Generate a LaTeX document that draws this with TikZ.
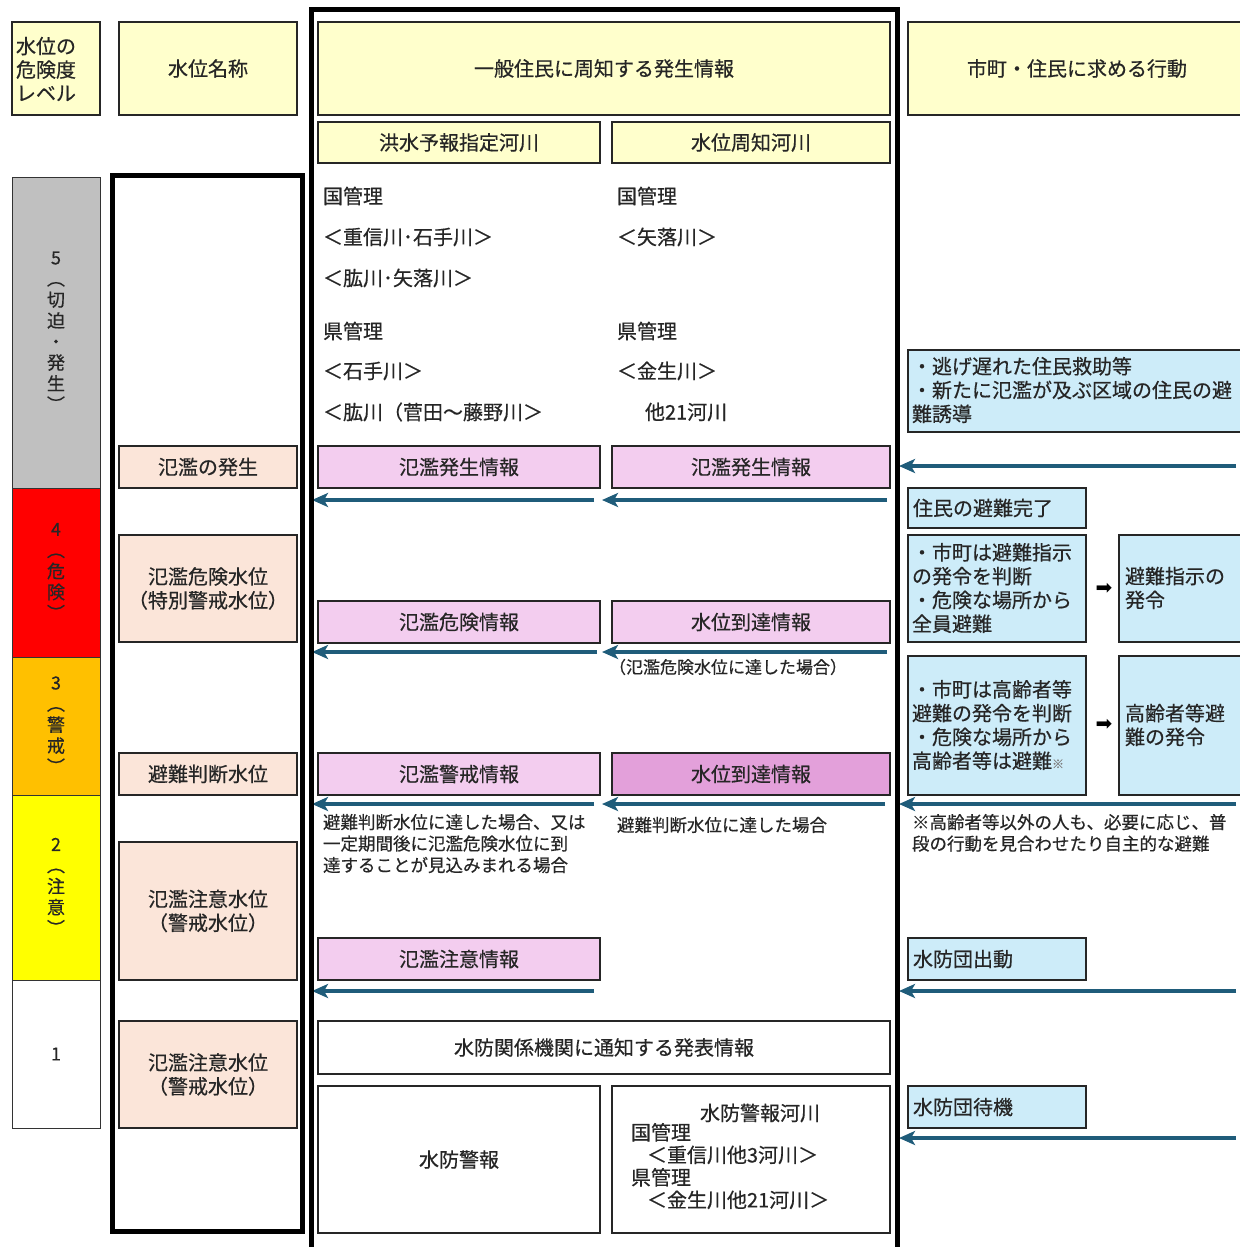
\documentclass[tikz,border=0pt]{standalone}
\usepackage{fontspec}
\usepackage{graphicx}
\setmainfont{Noto Sans CJK JP}[FakeBold=0.5]
\newfontfamily\symfont{DejaVu Sans}
\usetikzlibrary{arrows.meta}
\definecolor{hdr}{HTML}{FFFFCC}
\definecolor{lgray}{HTML}{C0C0C0}
\definecolor{lred}{HTML}{FF0000}
\definecolor{lorange}{HTML}{FFC000}
\definecolor{lyellow}{HTML}{FFFF00}
\definecolor{peach}{HTML}{FBE5D9}
\definecolor{pinkA}{HTML}{F3CDEF}
\definecolor{pinkB}{HTML}{E3A0DA}
\definecolor{lblue}{HTML}{CDECF9}
\definecolor{arrc}{HTML}{1F5C7A}
\definecolor{txt}{HTML}{262626}
\newcommand\fsA{\fontsize{20pt}{23.8pt}\selectfont}
\newcommand\fsB{\fontsize{17.5pt}{21.5pt}\selectfont}
\newcommand\fsC{\fontsize{18pt}{21pt}\selectfont}
\newcommand\vop{\rotatebox[origin=c]{-90}{（}}
\newcommand\vcp{\rotatebox[origin=c]{-90}{）}}
\newcommand\mybox[7]{\node[#6, minimum width={(#4-#2)*1pt}, minimum height={(#5-#3)*1pt}] (#1) at ({(#2+#4)/2},{(#3+#5)/2}) {#7};}
\newcommand\myarrow[4]{\coordinate (#1s) at (#2,#4); \coordinate (#1e) at (#3,#4); \draw[arr] (#1s) -- (#1e);}
\tikzset{
  bx/.style={draw=black!85, line width=1.3pt, inner sep=0pt, outer sep=0pt, text=txt, font=\fsA, align=center},
  lv/.style={draw=black!80, line width=1pt, inner sep=0pt, outer sep=0pt, text=txt, font=\fsC, align=center},
  lbl/.style={inner sep=0pt, outer sep=0pt, text=txt, font=\fsA, align=left},
  sml/.style={inner sep=0pt, outer sep=0pt, text=txt, font=\fsB, align=left},
  arr/.style={draw=arrc, line width=3.4pt, -{Stealth[length=16pt,width=14pt,inset=4pt]}},
  frame/.style={draw=black, line width=5pt}
}
\begin{document}
\begin{tikzpicture}[x=1pt,y=-1pt]
\useasboundingbox (0,0) rectangle (1239,1247);
\fill[white] (0,0) rectangle (1239,1247);
% headers
\mybox{h1}{12}{22}{100}{115}{bx,fill=hdr}{}
\node[lbl, anchor=west, font={\fontsize{20pt}{23.5pt}\selectfont}] (h1t) at (16,69) {水位の\\危険度\\レベル};
\mybox{h2}{119}{22}{297}{115}{bx,fill=hdr}{水位名称}
\mybox{h3}{318}{22}{890}{115}{bx,fill=hdr}{一般住民に周知する発生情報}
\mybox{h4}{908}{22}{1246}{115}{bx,fill=hdr}{市町・住民に求める行動}
\mybox{s1}{318}{122}{600}{163}{bx,fill=hdr}{洪水予報指定河川}
\mybox{s2}{612}{122}{890}{163}{bx,fill=hdr}{水位周知河川}
% levels
\mybox{L5}{12}{177}{100}{488}{lv,fill=lgray}{5\\\vop\\切\\迫\\・\\発\\生\\\vcp}
\mybox{L4}{12}{488}{100}{657}{lv,fill=lred}{4\\\vop\\危\\険\\\vcp}
\mybox{L3}{12}{657}{100}{795}{lv,fill=lorange}{3\\\vop\\警\\戒\\\vcp}
\mybox{L2}{12}{795}{100}{980}{lv,fill=lyellow}{2\\\vop\\注\\意\\\vcp}
\mybox{L1}{12}{980}{100}{1128}{lv,fill=white}{1}
% water level names
\mybox{n1}{119}{446}{297}{488}{bx,fill=peach}{氾濫の発生}
\mybox{n2}{119}{535}{297}{642}{bx,fill=peach}{氾濫危険水位\\（特別警戒水位）}
\mybox{n3}{119}{753}{297}{795}{bx,fill=peach}{避難判断水位}
\mybox{n4}{119}{842}{297}{980}{bx,fill=peach}{氾濫注意水位\\（警戒水位）}
\mybox{n5}{119}{1021}{297}{1128}{bx,fill=peach}{氾濫注意水位\\（警戒水位）}
% river lists
\node[lbl, anchor=west] (r1) at (323,196) {国管理};
\node[lbl, anchor=west] (r2) at (323,237) {＜重信川･石手川＞};
\node[lbl, anchor=west] (r3) at (323,278) {＜肱川･矢落川＞};
\node[lbl, anchor=west] (r4) at (323,331) {県管理};
\node[lbl, anchor=west] (r5) at (323,371) {＜石手川＞};
\node[lbl, anchor=west] (r6) at (323,412) {＜肱川（菅田～藤野川＞};
\node[lbl, anchor=west] (q1) at (617,196) {国管理};
\node[lbl, anchor=west] (q2) at (617,237) {＜矢落川＞};
\node[lbl, anchor=west] (q4) at (617,331) {県管理};
\node[lbl, anchor=west] (q5) at (617,371) {＜金生川＞};
\node[lbl, anchor=west] (q6) at (645,412) {他21河川};
% information boxes
\mybox{p1L}{318}{446}{600}{488}{bx,fill=pinkA}{氾濫発生情報}
\mybox{p1R}{612}{446}{890}{488}{bx,fill=pinkA}{氾濫発生情報}
\mybox{p2L}{318}{601}{600}{643}{bx,fill=pinkA}{氾濫危険情報}
\mybox{p2R}{612}{601}{890}{643}{bx,fill=pinkA}{水位到達情報}
\mybox{p3L}{318}{753}{600}{795}{bx,fill=pinkA}{氾濫警戒情報}
\mybox{p3R}{612}{753}{890}{795}{bx,fill=pinkB}{水位到達情報}
\mybox{p4L}{318}{938}{600}{980}{bx,fill=pinkA}{氾濫注意情報}
\node[sml, anchor=west, font={\fontsize{17pt}{20pt}\selectfont}] (c1) at (609,667) {（氾濫危険水位に達した場合）};
\node[sml, anchor=north west] (c2) at (323,814) {避難判断水位に達した場合、又は\\一定期間後に氾濫危険水位に到\\達することが見込みまれる場合};
\node[sml, anchor=west] (c3) at (617,825) {避難判断水位に達した場合};
% flood-fighting boxes
\mybox{w1}{318}{1021}{890}{1074}{bx,fill=white}{水防関係機関に通知する発表情報}
\mybox{w2}{318}{1086}{600}{1233}{bx,fill=white}{水防警報}
\mybox{w3}{612}{1086}{890}{1233}{bx,fill=white}{}
\node[lbl, anchor=west] (w3a) at (700,1113) {水防警報河川};
\node[lbl, anchor=north west, font={\fontsize{20pt}{22.5pt}\selectfont}] (w3b) at (631,1123) {国管理\\\hspace*{16pt}＜重信川他3河川＞\\県管理\\\hspace*{16pt}＜金生川他21河川＞};
% actions
\mybox{b1}{908}{350}{1246}{432}{bx,fill=lblue}{}
\node[lbl, anchor=west] (b1t) at (912,390) {・逃げ遅れた住民救助等\\・新たに氾濫が及ぶ区域の住民の避\\難誘導};
\mybox{b2}{908}{488}{1086}{528}{bx,fill=lblue}{}
\node[lbl, anchor=west] (b2t) at (913,508) {住民の避難完了};
\mybox{b3}{908}{535}{1086}{642}{bx,fill=lblue}{}
\node[lbl, anchor=west] (b3t) at (912,588) {・市町は避難指示\\の発令を判断\\・危険な場所から\\全員避難};
\mybox{b4}{1119}{535}{1246}{642}{bx,fill=lblue}{}
\node[lbl, anchor=west] (b4t) at (1125,588) {避難指示の\\発令};
\mybox{b5}{908}{656}{1086}{795}{bx,fill=lblue}{}
\node[lbl, anchor=west] (b5t) at (912,725) {・市町は高齢者等\\避難の発令を判断\\・危険な場所から\\高齢者等は避難{\color{gray}\fontsize{12pt}{12pt}\selectfont ※}};
\mybox{b6}{1119}{656}{1246}{795}{bx,fill=lblue}{}
\node[lbl, anchor=west] (b6t) at (1125,725) {高齢者等避\\難の発令};
\node[inner sep=0pt, font=\symfont\fontsize{20pt}{20pt}\selectfont] (m1) at (1104,589) {➡};
\node[inner sep=0pt, font=\symfont\fontsize{20pt}{20pt}\selectfont] (m2) at (1104,725) {➡};
\node[sml, anchor=north west] (note) at (912,814) {※高齢者等以外の人も、必要に応じ、普\\段の行動を見合わせたり自主的な避難};
\mybox{b7}{908}{938}{1086}{980}{bx,fill=lblue}{}
\node[lbl, anchor=west] (b7t) at (913,959) {水防団出動};
\mybox{b8}{908}{1086}{1086}{1128}{bx,fill=lblue}{}
\node[lbl, anchor=west] (b8t) at (913,1107) {水防団待機};
% arrows
\myarrow{a1}{594}{312}{500}
\myarrow{a2}{887}{602}{500}
\myarrow{a3}{1236}{899}{466}
\myarrow{a4}{597}{312}{652}
\myarrow{a5}{887}{602}{652}
\myarrow{a6}{594}{312}{804}
\myarrow{a7}{885}{602}{804}
\myarrow{a8}{1236}{899}{804}
\myarrow{a9}{594}{312}{991}
\myarrow{a10}{1236}{899}{991}
\myarrow{a11}{1236}{899}{1138}
% thick frames
\draw[frame] (112.5,175.5) rectangle (302.5,1231);
\draw[frame] (311,10) rectangle (897,1265);
\end{tikzpicture}
\end{document}
